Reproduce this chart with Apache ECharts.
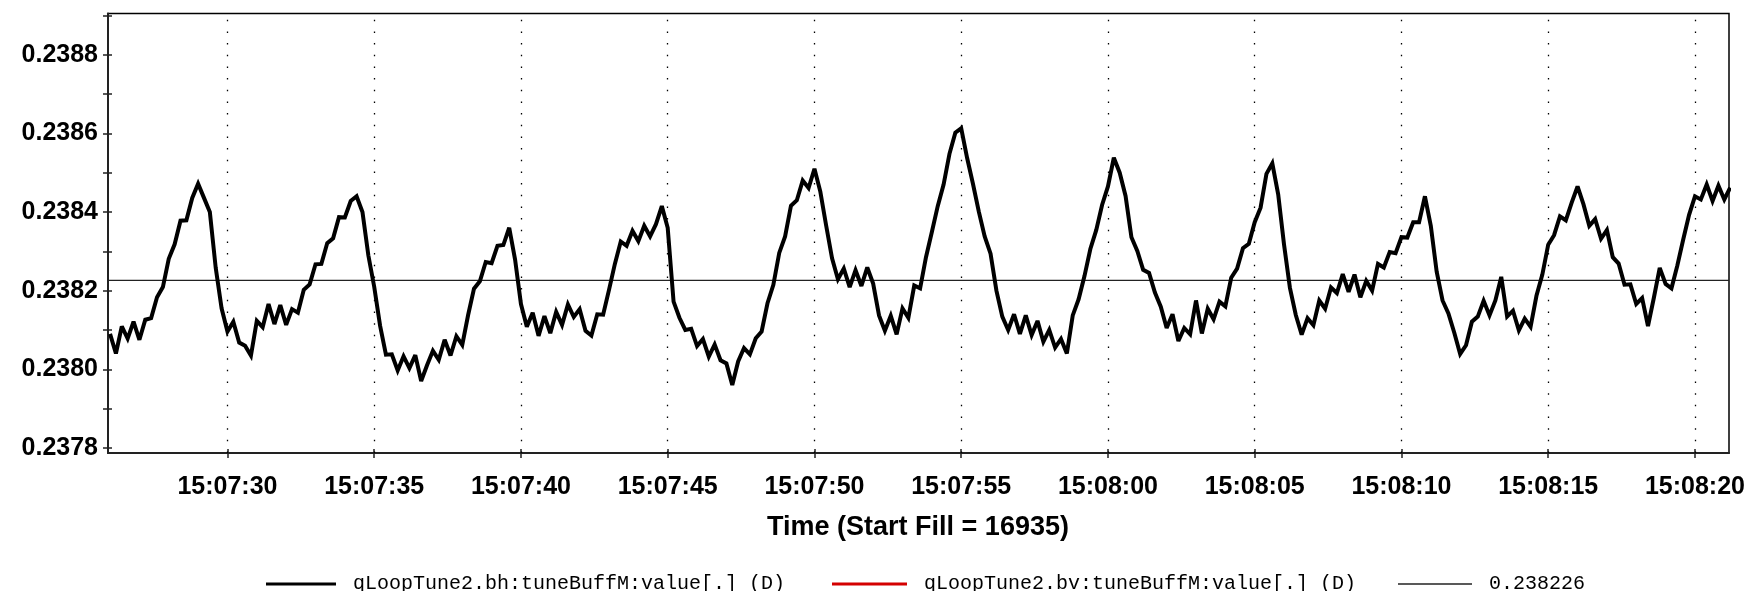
<!DOCTYPE html>
<html><head><meta charset="utf-8">
<script src="https://cdn.jsdelivr.net/npm/echarts@6/dist/echarts.min.js"></script>
<style>html,body{margin:0;padding:0;background:#fff}#c{width:1752px;height:591px}</style>
</head><body><div id="c"></div>
<script>
// sampling grid of the trace: seconds after 15:07:00
const sampleStart = 26.0;
const sampleStep = 0.2;
// qLoopTune2.bh:tuneBuffM:value[.] (D)
const tuneBh = [
0.23809,0.23804,0.238109,0.238078,0.238121,
0.238075,0.238126,0.23813,0.238183,0.238209,
0.238281,0.238318,0.238378,0.238379,0.238436,
0.238472,0.238436,0.2384,0.238258,0.238155,
0.238096,0.238121,0.238068,0.23806,0.238035,
0.238123,0.238107,0.238166,0.238115,0.238163,
0.238113,0.238153,0.238144,0.238202,0.238216,
0.238267,0.238268,0.238321,0.238333,0.238387,
0.238386,0.238428,0.23844,0.2384,0.23829,
0.23821,0.238111,0.238037,0.238038,0.237997,
0.238033,0.238003,0.238036,0.23797,0.23801,
0.238047,0.238024,0.238075,0.238035,0.238084,
0.238062,0.238138,0.238205,0.238224,0.238273,
0.23827,0.238314,0.238316,0.23836,0.238279,
0.238166,0.238108,0.238144,0.238085,0.238135,
0.238092,0.238146,0.238113,0.238165,0.238133,
0.238153,0.238098,0.238086,0.23814,0.238139,
0.238202,0.238268,0.238325,0.238314,0.238352,
0.238326,0.238365,0.238338,0.238369,0.238415,
0.23836,0.238172,0.238131,0.2381,0.238103,
0.238059,0.238077,0.238032,0.238063,0.238023,
0.238015,0.23796,0.23802,0.238054,0.238038,
0.238079,0.238096,0.238168,0.238215,0.238296,
0.238338,0.238416,0.23843,0.23848,0.238461,
0.23851,0.238452,0.238365,0.238282,0.238229,
0.238256,0.238209,0.238252,0.238212,0.238259,
0.238218,0.238137,0.238098,0.238136,0.238089,
0.238155,0.238131,0.238213,0.238206,0.238285,
0.238349,0.238415,0.23847,0.238548,0.238602,
0.238613,0.238538,0.238472,0.238401,0.238338,
0.238294,0.2382,0.238134,0.2381,0.23814,
0.23809,0.238137,0.238087,0.238123,0.23807,
0.2381,0.238055,0.238077,0.23804,0.238137,
0.238178,0.238237,0.238306,0.238354,0.238418,
0.238465,0.238538,0.2385,0.238441,0.238336,
0.238301,0.238253,0.238245,0.238195,0.238159,
0.238105,0.23814,0.238072,0.238105,0.238089,
0.238175,0.238091,0.238154,0.238127,0.238172,
0.23816,0.238233,0.238256,0.238308,0.238319,
0.238374,0.238411,0.238497,0.238524,0.238445,
0.238317,0.238207,0.238138,0.238088,0.23813,
0.238112,0.238175,0.238154,0.238208,0.238194,
0.238242,0.238197,0.238241,0.238183,0.238225,
0.2382,0.238268,0.238259,0.238298,0.238295,
0.238336,0.238335,0.238374,0.238374,0.23844,
0.238365,0.238248,0.238175,0.238142,0.238093,
0.238039,0.238061,0.238121,0.238134,0.238174,
0.238137,0.238175,0.238235,0.238134,0.238149,
0.238099,0.238129,0.238108,0.238187,0.238241,
0.238317,0.238341,0.238389,0.238379,0.238424,
0.238465,0.23842,0.238365,0.238382,0.238332,
0.238354,0.238285,0.238269,0.238215,0.238216,
0.238166,0.238181,0.23811,0.238182,0.238258,
0.238217,0.238206,0.238264,0.23833,0.238393,
0.23844,0.238432,0.23847,0.238428,0.238467,
0.238432,0.238462
];
// qLoopTune2.bv:tuneBuffM:value[.] (D) -- nothing visible in the plot
const tuneBv = [];
const refLevel = 0.238226;
const seriesNames = ['qLoopTune2.bh:tuneBuffM:value[.] (D)', 'qLoopTune2.bv:tuneBuffM:value[.] (D)', '0.238226'];
const xTickSeconds = [30, 35, 40, 45, 50, 55, 60, 65, 70, 75, 80];
const xTickLabels = ['15:07:30','15:07:35','15:07:40','15:07:45','15:07:50','15:07:55','15:08:00','15:08:05','15:08:10','15:08:15','15:08:20'];
const yLabelValues = [0.2378, 0.2380, 0.2382, 0.2384, 0.2386, 0.2388];
const yTickValues = [0.2378, 0.2379, 0.2380, 0.2381, 0.2382, 0.2383, 0.2384, 0.2385, 0.2386, 0.2387, 0.2388, 0.2389];
const xRange = [25.93, 81.16];
const yRange = [0.237787, 0.238905];
const axisTitle = 'Time (Start Fill = 16935)';

const bhData = tuneBh.map((v, i) => [sampleStart + i * sampleStep, v]);
const refData = [[xRange[0], refLevel], [xRange[1], refLevel]];

const chart = echarts.init(document.getElementById('c'), null, {renderer: 'canvas'});
const labelFont = {fontFamily: '"Liberation Sans", Arial, sans-serif', fontWeight: 'bold', fontSize: 25, color: '#000'};
const legendText = {fontFamily: '"Liberation Mono", "DejaVu Sans Mono", monospace', fontSize: 20, color: '#000', padding: [0, 0, 0, 12]};

chart.setOption({
  animation: false,
  backgroundColor: '#fff',
  grid: {left: 108, right: 23, top: 13.5, bottom: 138, show: true, borderColor: '#000', borderWidth: 1.5, backgroundColor: 'transparent', containLabel: false, outerBoundsMode: 'none'},
  xAxis: [{
    type: 'value', min: xRange[0], max: xRange[1], position: 'bottom',
    axisLine: {show: true, onZero: false, lineStyle: {color: '#222', width: 2}},
    axisTick: {show: true, inside: false, length: 5, customValues: xTickSeconds, lineStyle: {color: '#222', width: 1.5}},
    axisLabel: {show: true, margin: 22, customValues: xTickSeconds, ...labelFont,
      formatter: v => { const k = xTickSeconds.indexOf(Math.round(v)); return k >= 0 ? xTickLabels[k] : ''; }},
    splitLine: {show: false}
  }, {
    type: 'value', min: xRange[0], max: xRange[1], position: 'bottom',
    axisLine: {show: false},
    axisTick: {show: true, inside: true, length: 4, customValues: xTickSeconds, lineStyle: {color: '#222', width: 1.5}},
    axisLabel: {show: false}, splitLine: {show: false}
  }],
  yAxis: [{
    type: 'value', min: yRange[0], max: yRange[1], position: 'left',
    axisLine: {show: true, onZero: false, lineStyle: {color: '#222', width: 2}},
    axisTick: {show: true, inside: false, length: 5, customValues: yTickValues, lineStyle: {color: '#222', width: 1.5}},
    axisLabel: {show: true, margin: 10, customValues: yLabelValues, ...labelFont, formatter: v => v.toFixed(4)},
    splitLine: {show: false}
  }, {
    type: 'value', min: yRange[0], max: yRange[1], position: 'left',
    axisLine: {show: false},
    axisTick: {show: true, inside: true, length: 4, customValues: yTickValues, lineStyle: {color: '#222', width: 1.5}},
    axisLabel: {show: false}, splitLine: {show: false}
  }],
  legend: [
    {data: [seriesNames[0]], left: 261, top: 569, icon: 'rect', itemWidth: 70, itemHeight: 3, selectedMode: false, textStyle: legendText},
    {data: [seriesNames[1]], left: 827, top: 569, icon: 'rect', itemWidth: 75, itemHeight: 3, selectedMode: false, textStyle: legendText},
    {data: [seriesNames[2]], left: 1393, top: 569, icon: 'rect', itemWidth: 74, itemHeight: 1.5, selectedMode: false, textStyle: legendText}
  ],
  graphic: [{
    type: 'text', x: 918, y: 528, silent: true,
    style: {text: axisTitle, fill: '#000', font: 'bold 27px "Liberation Sans", Arial, sans-serif', align: 'center', verticalAlign: 'middle'}
  }],
  series: [
    {
      name: seriesNames[2], type: 'line', data: refData, xAxisIndex: 0, yAxisIndex: 0,
      showSymbol: false, symbol: 'none', color: '#222', lineStyle: {color: '#222', width: 1.3}, z: 2,
      markLine: {
        silent: true, symbol: 'none', label: {show: false},
        lineStyle: {color: '#000', width: 1.3, type: [1.5, 10.17]},
        emphasis: {disabled: true},
        data: xTickSeconds.map(s => ({xAxis: s}))
      }
    },
    {
      name: seriesNames[0], type: 'line', data: bhData, xAxisIndex: 0, yAxisIndex: 0,
      showSymbol: false, symbol: 'none', sampling: 'none', color: '#000', clip: true,
      lineStyle: {color: '#000', width: 4, join: 'miter', miterLimit: 3}, z: 3
    },
    {
      name: seriesNames[1], type: 'line', data: tuneBv, xAxisIndex: 0, yAxisIndex: 0,
      showSymbol: false, symbol: 'none', color: '#d40000', lineStyle: {color: '#d40000', width: 2.5}, z: 4
    }
  ]
});
</script>
</body></html>
